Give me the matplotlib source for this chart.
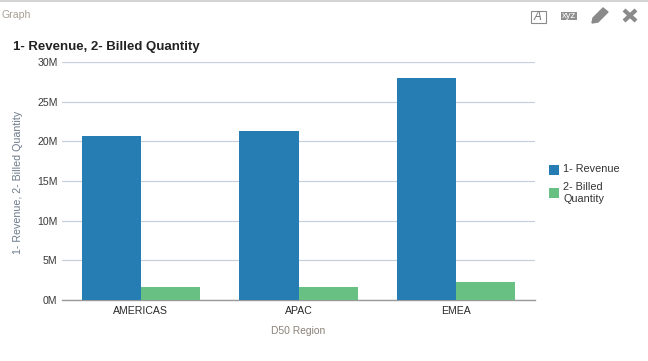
import matplotlib
matplotlib.use("Agg")
import matplotlib.pyplot as plt
from matplotlib.patches import Rectangle, Polygon
import numpy as np

regions = ["AMERICAS", "APAC", "EMEA"]
revenue = [20.7e6, 21.3e6, 28.0e6]
billed_qty = [1.6e6, 1.6e6, 2.25e6]
yticks = [0, 5e6, 10e6, 15e6, 20e6, 25e6, 30e6]
ytick_labels = ["0M", "5M", "10M", "15M", "20M", "25M", "30M"]

W, H = 648, 361
BLUE = "#267db3"
GREEN = "#68c182"

plt.rcParams["font.family"] = ["Liberation Sans", "DejaVu Sans"]

fig = plt.figure(figsize=(W / 100, H / 100), dpi=100, facecolor="white")
ax = fig.add_axes([62 / W, 1 - 300 / H, (535 - 62) / W, (300 - 62) / H])

x = np.arange(len(regions))
bar_w = 0.375
ax.bar(x - bar_w / 2, revenue, bar_w, color=BLUE, zorder=3)
ax.bar(x + bar_w / 2, billed_qty, bar_w, color=GREEN, zorder=3)

ax.set_xlim(-0.5, 2.5)
ax.set_ylim(0, 30e6)
ax.set_yticks(yticks)
ax.set_yticklabels(ytick_labels, fontsize=7.6, color="#3a3a3a")
ax.set_xticks(x)
ax.set_xticklabels(regions, fontsize=7.6, color="#2a2a2a")
ax.tick_params(length=0)
ax.tick_params(axis="y", pad=3.2)
ax.tick_params(axis="x", pad=4.5)
ax.grid(axis="y", color="#c5d0dc", linewidth=0.9, zorder=0)
for s in ["top", "left", "right"]:
    ax.spines[s].set_visible(False)
ax.spines["bottom"].set_color("#9a9a9a")
ax.spines["bottom"].set_linewidth(1)

# overlay in pixel coords for panel header, labels, legend
ov = fig.add_axes([0, 0, 1, 1], facecolor="none")
ov.set_xlim(0, W)
ov.set_ylim(H, 0)
ov.axis("off")

ov.plot([0, W], [0.8, 0.8], color="#d4d4d4", linewidth=1.5)
ov.text(2, 14.5, "Graph", fontsize=7.6, color="#a89f94", va="center")
ov.text(13, 47, "1- Revenue, 2- Billed Quantity", fontsize=9.5, fontweight="bold",
        color="#222222", va="center")
ov.text(18, 182, "1- Revenue, 2- Billed Quantity", fontsize=7.7, color="#6d7a8a",
        rotation=90, ha="center", va="center")
ov.text(298.5, 331, "D50 Region", fontsize=7.4, color="#8a8178", ha="center", va="center")

# legend
ov.add_patch(Rectangle((549, 165), 10, 10, color=BLUE, linewidth=0))
ov.text(563, 169.5, "1- Revenue", fontsize=7.8, color="#333333", va="center")
ov.add_patch(Rectangle((549, 188), 10, 10, color=GREEN, linewidth=0))
ov.text(563, 187.5, "2- Billed", fontsize=7.8, color="#333333", va="center")
ov.text(563, 198.5, "Quantity", fontsize=7.8, color="#333333", va="center")

# toolbar icons
ov.add_patch(Rectangle((530.5, 10.5), 15, 12, fill=False, edgecolor="#8a8a8a", linewidth=0.8))
ov.text(538, 16.5, "A", fontsize=8.5, style="italic", color="#777777", ha="center", va="center")
ov.add_patch(Rectangle((561, 12), 16, 8, color="#8f8f8f", linewidth=0))
ov.text(569, 16, "xyz", fontsize=6.8, color="white", ha="center", va="center")
ov.add_patch(Polygon([[592, 23], [593, 18], [603, 8], [608, 12], [598, 22]], color="#8a8a8a"))
ov.plot([624, 636], [10, 21], color="#8a8a8a", linewidth=3, solid_capstyle="butt")
ov.plot([636, 624], [10, 21], color="#8a8a8a", linewidth=3, solid_capstyle="butt")

fig.savefig("out.png", dpi=100)
